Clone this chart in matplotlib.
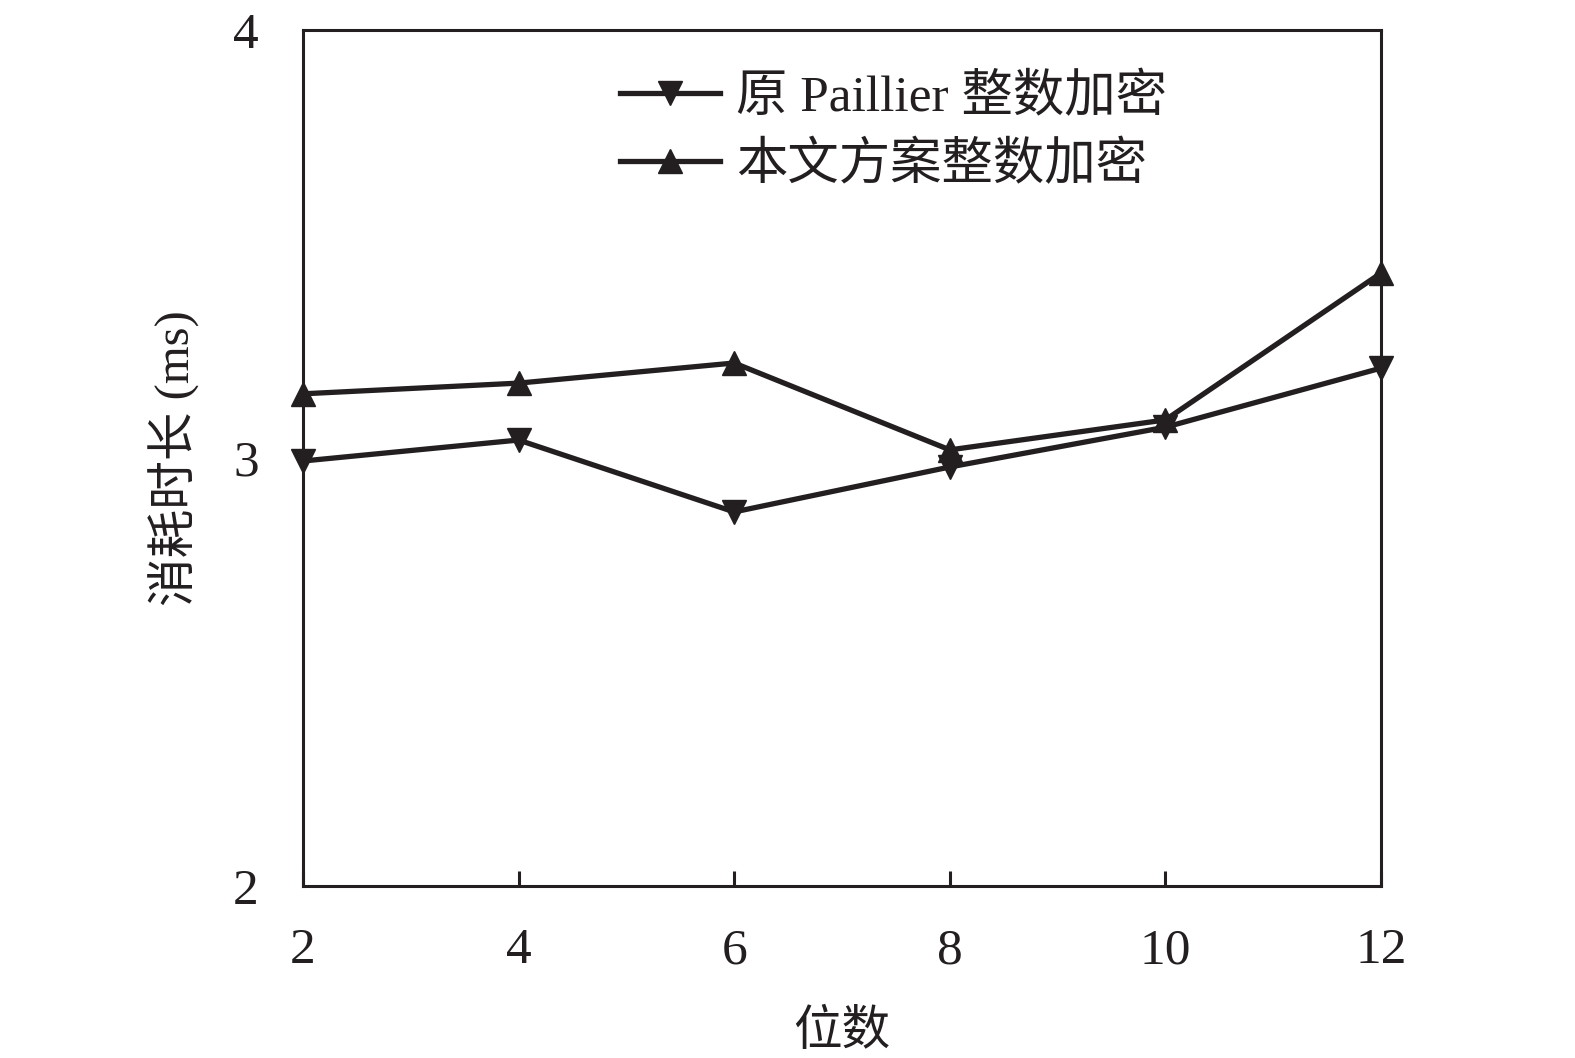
import matplotlib

matplotlib.use("Agg")
import matplotlib.pyplot as plt

# data
bits = [2, 4, 6, 8, 10, 12]
paillier_ms = [2.993, 3.042, 2.874, 2.979, 3.072, 3.210]
ours_ms = [3.150, 3.175, 3.222, 3.019, 3.089, 3.432]

series_labels = ["原 Paillier 整数加密", "本文方案整数加密"]
x_label = "位数"
y_label = "消耗时长 (ms)"
y_ticks = [2, 3, 4]

INK = "#231f20"

plt.rcParams["font.family"] = ["Liberation Serif", "Noto Sans CJK SC"]
plt.rcParams["axes.linewidth"] = 2.2

fig = plt.figure(figsize=(15.75, 10.58), dpi=100)
ax = fig.add_axes([0.1924, 0.1626, 0.6844, 0.809])

ax.plot(bits, paillier_ms, color=INK, lw=3.8, marker="v", ms=17,
        label=series_labels[0], clip_on=False, zorder=3)
ax.plot(bits, ours_ms, color=INK, lw=3.8, marker="^", ms=17,
        label=series_labels[1], clip_on=False, zorder=3)

ax.set_xlim(2, 12)
ax.set_ylim(2, 4)
ax.set_xticks(bits)
ax.set_yticks(y_ticks)

for side in ax.spines.values():
    side.set_color(INK)

ax.tick_params(axis="x", direction="in", length=11, width=2.2, pad=30,
               labelsize=37, colors=INK)
ax.tick_params(axis="y", direction="in", length=0, pad=32,
               labelsize=37, colors=INK)

ax.set_xlabel(x_label, fontsize=35, color=INK, labelpad=26)
ax.set_ylabel(y_label, fontsize=35, color=INK, labelpad=24)

leg = ax.legend(loc="upper left", bbox_to_anchor=(0.275, 0.973),
                frameon=False, fontsize=37, handlelength=1.95,
                handletextpad=0.3, labelspacing=0.38, numpoints=1,
                borderaxespad=0)
for t in leg.get_texts():
    t.set_color(INK)

fig.savefig("out.png", dpi=100)
